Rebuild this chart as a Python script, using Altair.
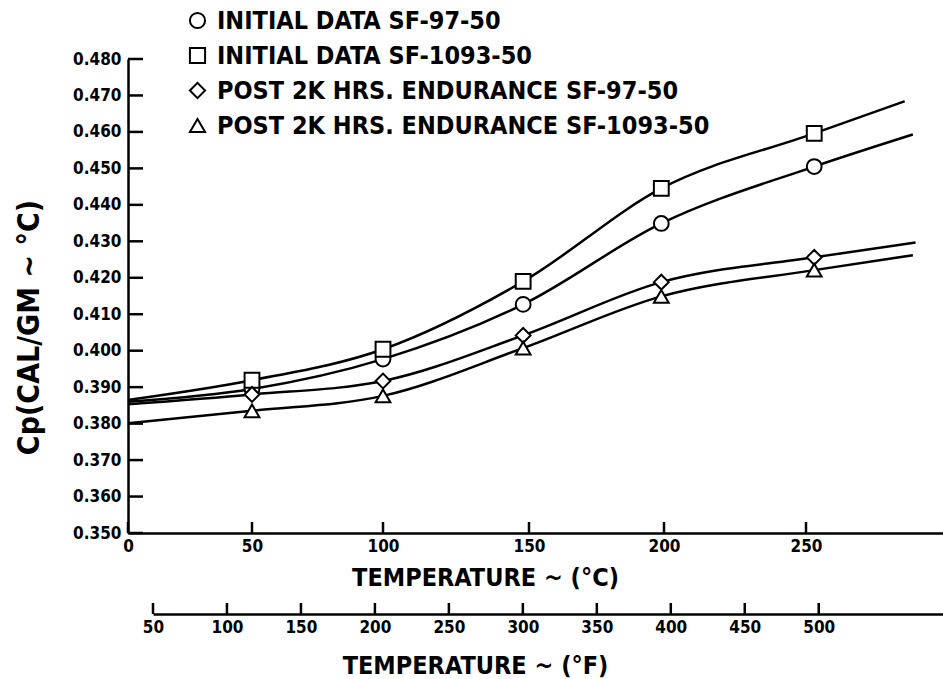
import altair as alt
import pandas as pd

# ---------------- data ----------------
series_names = [
    "INITIAL DATA SF-97-50",
    "INITIAL DATA SF-1093-50",
    "POST 2K HRS. ENDURANCE SF-97-50",
    "POST 2K HRS. ENDURANCE SF-1093-50",
]
series_shapes = ["circle", "square", "diamond", "triangle-up"]

# measured temperatures (deg C) of the plotted points
temps_c = [50, 100, 148, 199, 253]

cp_initial_sf97 = [0.3895, 0.3977, 0.4127, 0.4349, 0.4505]
cp_initial_sf1093 = [0.3919, 0.4004, 0.4190, 0.4445, 0.4596]
cp_post_sf97 = [0.3880, 0.3917, 0.4042, 0.4188, 0.4256]
cp_post_sf1093 = [0.3835, 0.3876, 0.4007, 0.4149, 0.4221]

# faired curve end points (start at 0 C, end near 290 C)
curve_start_c = [0, 0, 0, 0]
curve_start_cp = [0.3860, 0.3865, 0.3853, 0.3801]
curve_end_c = [289, 286, 290, 289]
curve_end_cp = [0.4593, 0.4684, 0.4297, 0.4262]

# axis ticks
y_ticks = [0.35, 0.36, 0.37, 0.38, 0.39, 0.40, 0.41, 0.42, 0.43, 0.44, 0.45, 0.46, 0.47, 0.48]
c_ticks = [0, 50, 100, 150, 200, 250]
f_ticks = [50, 100, 150, 200, 250, 300, 350, 400, 450, 500]

# ---------------- tables ----------------
all_cp = [cp_initial_sf97, cp_initial_sf1093, cp_post_sf97, cp_post_sf1093]
pts_rows, curve_rows = [], []
for i, name in enumerate(series_names):
    curve_rows.append({"series": name, "C": curve_start_c[i], "Cp": curve_start_cp[i], "order": 0})
    for j, t in enumerate(temps_c):
        pts_rows.append({"series": name, "C": t, "Cp": all_cp[i][j]})
        curve_rows.append({"series": name, "C": t, "Cp": all_cp[i][j], "order": j + 1})
    curve_rows.append({"series": name, "C": curve_end_c[i], "Cp": curve_end_cp[i], "order": 9})
pts = pd.DataFrame(pts_rows)
curves = pd.DataFrame(curve_rows)
yt = pd.DataFrame({"Cp": y_ticks})
ct = pd.DataFrame({"C": c_ticks})
ft = pd.DataFrame({"F": f_ticks})

# ---------------- layout ----------------
W, H = 815, 474
FONT = "DejaVu Sans Condensed"

# hand-drawn Celsius axis: piecewise-linear scale
c_scale = alt.Scale(domain=[0, 50, 100, 150, 200, 250, 300],
                    range=[0, 124, 255, 401, 536, 678, 815], nice=False, zero=False)
f_scale = alt.Scale(domain=[50, 584], range=[25, 815], nice=False, zero=False)
y_scale = alt.Scale(domain=[0.35, 0.48], nice=False, zero=False)

c_axis = alt.Axis(
    values=c_ticks, format="d", tickSize=0, labelPadding=5, grid=False,
    labelFont=FONT, labelFontSize=17, labelFontWeight="bold", labelColor="black",
    domainColor="black", domainWidth=2.5,
    title="TEMPERATURE ~ (°C)", titleFont=FONT, titleFontSize=25, titleFontWeight="bold",
    titleColor="black", titleX=357, titleY=44, titleBaseline="middle", titleAlign="center",
    labelFlush=False, labelOverlap=False,
)
y_axis = alt.Axis(
    values=y_ticks, format=".3f", tickSize=0, labelPadding=7, grid=False,
    labelFont=FONT, labelFontSize=17, labelFontWeight="bold", labelColor="black",
    domainColor="black", domainWidth=2.5,
    title="Cp(CAL/GM ~ °C)", titleFont=FONT, titleFontSize=30, titleFontWeight="bold",
    titleColor="black", titleX=-99, titleY=268, titleAngle=-90, titleBaseline="middle",
    titleAlign="center", labelOverlap=False, labelFlush=False,
)
f_axis = alt.Axis(
    orient="bottom", offset=81, values=f_ticks, format="d", tickSize=0, labelPadding=5,
    grid=False, labelFont=FONT, labelFontSize=17, labelFontWeight="bold", labelColor="black",
    domainColor="black", domainWidth=2.5,
    title="TEMPERATURE ~ (°F)", titleFont=FONT, titleFontSize=25, titleFontWeight="bold",
    titleColor="black", titleX=347, titleY=51, titleBaseline="middle", titleAlign="center",
    labelFlush=False, labelOverlap=False,
)

lines = alt.Chart(curves).mark_line(
    interpolate="monotone", color="black", strokeWidth=2.5
).encode(
    x=alt.X("C:Q", scale=c_scale, axis=c_axis),
    y=alt.Y("Cp:Q", scale=y_scale, axis=y_axis),
    detail="series:N",
    order="order:Q",
)

points = alt.Chart(pts).mark_point(
    filled=False, fill="white", color="black", strokeWidth=2, size=220, opacity=1
).encode(
    x=alt.X("C:Q", scale=c_scale, axis=None),
    y=alt.Y("Cp:Q", scale=y_scale, axis=y_axis),
    shape=alt.Shape(
        "series:N",
        scale=alt.Scale(domain=series_names, range=series_shapes),
        sort=series_names,
        legend=alt.Legend(
            orient="none", legendX=57, legendY=-51, title=None,
            labelFont=FONT, labelFontSize=25, labelFontWeight="bold", labelColor="black",
            labelLimit=1000, labelOffset=7, rowPadding=9,
            symbolSize=230, symbolStrokeWidth=2, symbolOpacity=1,
        ),
    ),
)

y_tick_marks = alt.Chart(yt).mark_rule(color="black", strokeWidth=2.5).encode(
    y=alt.Y("Cp:Q", scale=y_scale, axis=y_axis),
    x=alt.value(0), x2=alt.value(15),
)
c_tick_marks = alt.Chart(ct).mark_rule(color="black", strokeWidth=2.5).encode(
    x=alt.X("C:Q", scale=c_scale, axis=None),
    y=alt.value(H - 11), y2=alt.value(H),
)
f_tick_marks = alt.Chart(ft).mark_rule(color="black", strokeWidth=2.5).encode(
    x=alt.X("F:Q", scale=f_scale, axis=f_axis),
    y=alt.value(H + 81 - 11), y2=alt.value(H + 81),
)

chart = alt.layer(
    lines, y_tick_marks, c_tick_marks, f_tick_marks, points
).resolve_scale(x="independent").properties(
    width=W, height=H,
    autosize=alt.AutoSizeParams(type="none"),
    padding={"left": 128, "top": 59, "right": 0, "bottom": 146},
    background="white",
).configure_view(stroke=None)

chart.save("out.html", embed_options={"renderer": "svg", "actions": False})
